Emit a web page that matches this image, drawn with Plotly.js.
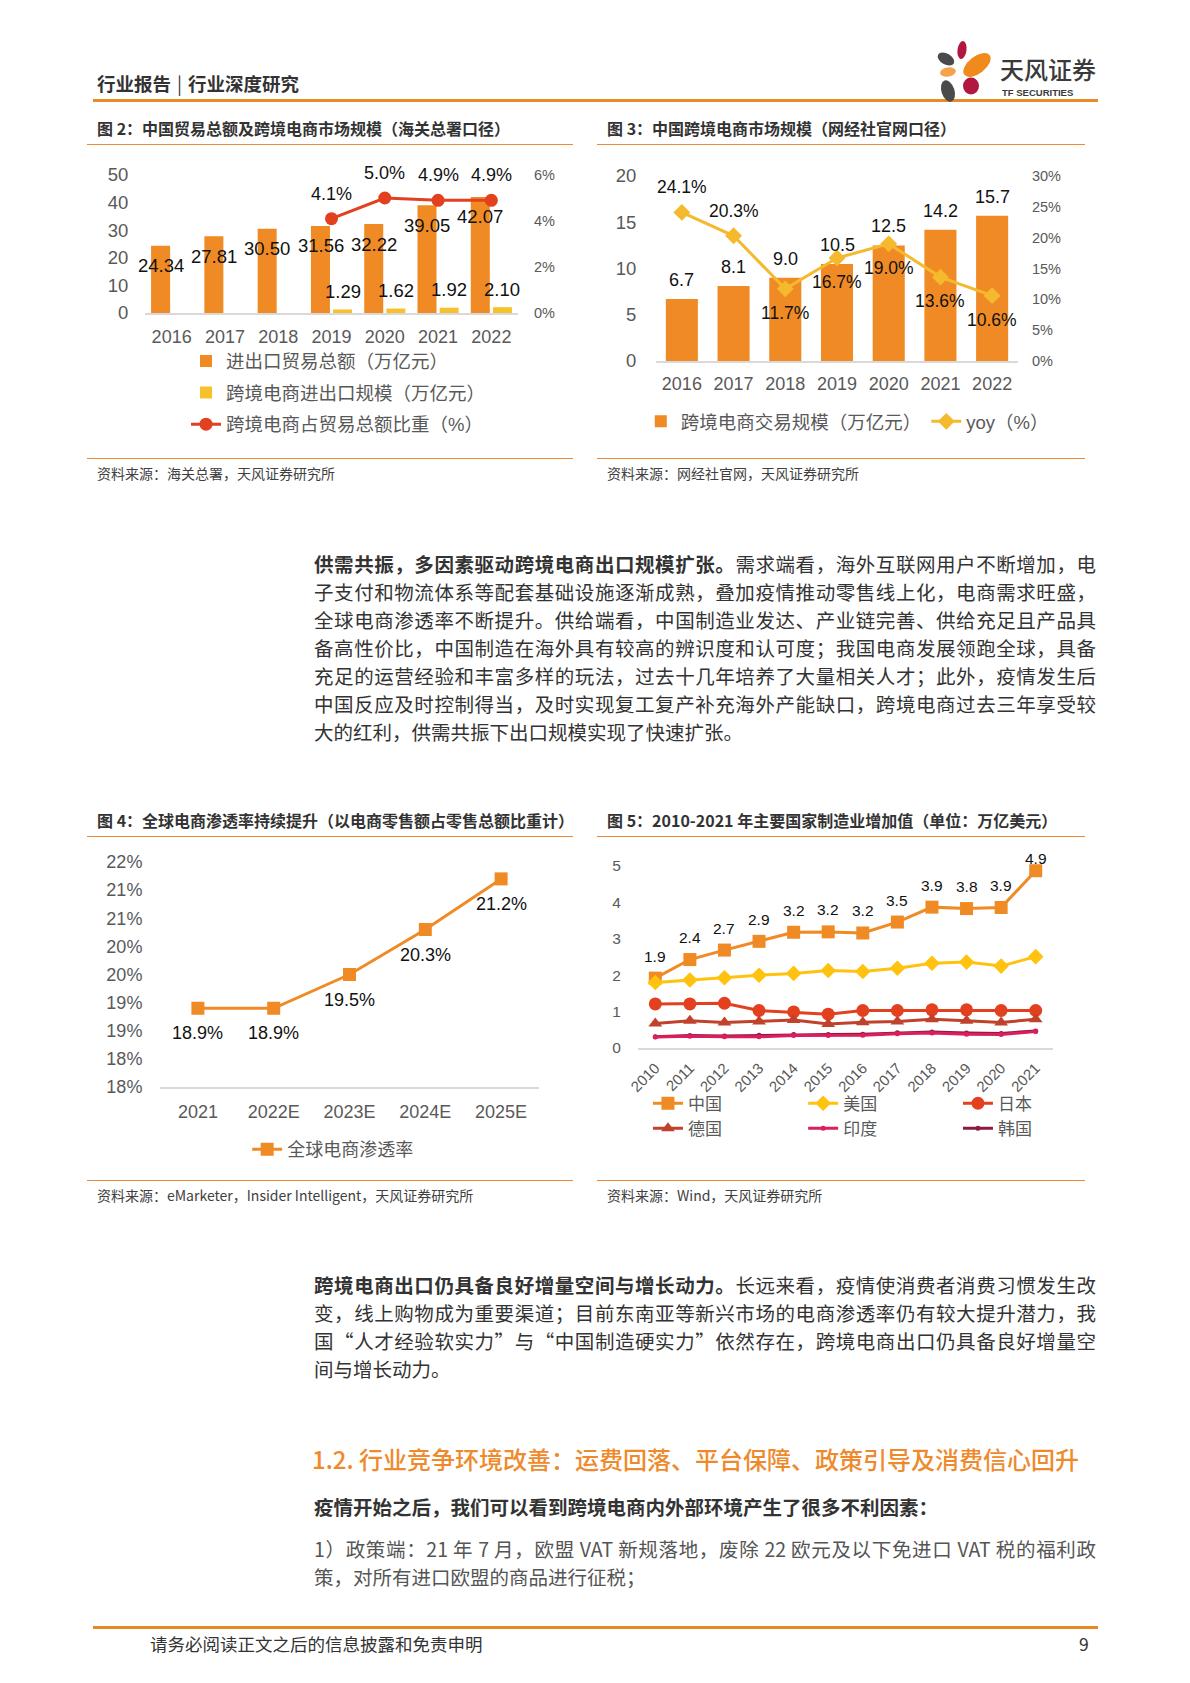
<!DOCTYPE html>
<html><head><meta charset="utf-8">
<script src="https://cdn.plot.ly/plotly-3.0.1.min.js"></script>
<style>
html,body{margin:0;padding:0;background:#fff;}
body{width:1190px;height:1683px;position:relative;overflow:hidden;font-family:"Noto Sans CJK SC","Noto Sans",sans-serif;color:#333;}
.abs{position:absolute;white-space:nowrap;}
.hline{position:absolute;background:#EE8A33;}
.ftitle{position:absolute;font-size:16px;font-weight:bold;color:#333;line-height:20px;white-space:nowrap;}
.src{position:absolute;font-size:14px;color:#404040;line-height:18px;white-space:nowrap;}
.para div{font-size:19.5px;line-height:28px;height:28px;text-align:justify;text-align-last:justify;color:#333;}
.para div.last{text-align-last:left;}
.chart{position:absolute;}
</style></head><body>

<!-- header -->
<div class="abs" style="left:97px;top:71px;font-size:18.5px;font-weight:bold;color:#333;line-height:24px;">行业报告<span style="padding:0 6px;font-weight:normal;">|</span>行业深度研究</div>
<div class="hline" style="left:93px;top:98.5px;width:1005px;height:3px;background:#E88A2A;"></div>
<svg class="abs" style="left:930px;top:36px;" width="175" height="70" viewBox="930 36 175 70">
  <ellipse cx="962" cy="50" rx="4.5" ry="9" fill="#B2173F" transform="rotate(8 962 50)"/>
  <ellipse cx="946" cy="59" rx="9" ry="5.5" fill="#4A4A4A" transform="rotate(30 946 59)"/>
  <ellipse cx="977" cy="65" rx="16" ry="8.5" fill="#F08A1C" transform="rotate(-38 977 65)"/>
  <ellipse cx="948" cy="72" rx="8" ry="4.5" fill="#F5A34A" transform="rotate(-10 948 72)"/>
  <ellipse cx="971" cy="86" rx="8" ry="8.5" fill="#B2173F"/>
  <ellipse cx="948" cy="91" rx="6.5" ry="11" fill="#4A4A4A" transform="rotate(-18 948 91)"/>
  <text x="1000" y="79" font-size="24" fill="#3A3A3A" font-family="Noto Sans CJK SC" font-weight="500">天风证券</text>
  <text x="1002" y="96" font-size="9.5" fill="#3A3A3A" font-family="Liberation Sans, Arial" font-weight="bold">TF SECURITIES</text>
</svg>

<!-- figure titles and rules -->
<div class="ftitle" style="left:97px;top:118px;">图 2：中国贸易总额及跨境电商市场规模（海关总署口径）</div>
<div class="ftitle" style="left:607px;top:118px;">图 3：中国跨境电商市场规模（网经社官网口径）</div>
<div class="hline" style="left:87px;top:143.5px;width:486px;height:1.5px;"></div>
<div class="hline" style="left:597px;top:143.5px;width:488px;height:1.5px;"></div>
<div class="hline" style="left:87px;top:457.5px;width:486px;height:1.5px;"></div>
<div class="hline" style="left:597px;top:457.5px;width:488px;height:1.5px;"></div>
<div class="src" style="left:97px;top:464px;">资料来源：海关总署，天风证券研究所</div>
<div class="src" style="left:607px;top:464px;">资料来源：网经社官网，天风证券研究所</div>

<div class="ftitle" style="left:97px;top:810px;">图 4：全球电商渗透率持续提升（以电商零售额占零售总额比重计）</div>
<div class="ftitle" style="left:607px;top:810px;">图 5：2010-2021 年主要国家制造业增加值（单位：万亿美元）</div>
<div class="hline" style="left:87px;top:835.5px;width:486px;height:1.5px;"></div>
<div class="hline" style="left:597px;top:835.5px;width:488px;height:1.5px;"></div>
<div class="hline" style="left:87px;top:1179.5px;width:486px;height:1.5px;"></div>
<div class="hline" style="left:597px;top:1179.5px;width:488px;height:1.5px;"></div>
<div class="src" style="left:97px;top:1186px;">资料来源：eMarketer，Insider Intelligent，天风证券研究所</div>
<div class="src" style="left:607px;top:1186px;">资料来源：Wind，天风证券研究所</div>

<!-- charts -->
<div id="fig2" class="chart" style="left:87px;top:146px;width:486px;height:310px;"></div>
<div id="fig3" class="chart" style="left:597px;top:146px;width:488px;height:310px;"></div>
<div id="fig4" class="chart" style="left:86px;top:838px;width:489px;height:340px;"></div>
<div id="fig5" class="chart" style="left:597px;top:838px;width:488px;height:340px;"></div>

<!-- paragraph 1 -->
<div class="para" style="position:absolute;left:314px;top:550px;width:782px;">
<div><b>供需共振，多因素驱动跨境电商出口规模扩张。</b>需求端看，海外互联网用户不断增加，电</div>
<div>子支付和物流体系等配套基础设施逐渐成熟，叠加疫情推动零售线上化，电商需求旺盛，</div>
<div>全球电商渗透率不断提升。供给端看，中国制造业发达、产业链完善、供给充足且产品具</div>
<div>备高性价比，中国制造在海外具有较高的辨识度和认可度；我国电商发展领跑全球，具备</div>
<div>充足的运营经验和丰富多样的玩法，过去十几年培养了大量相关人才；此外，疫情发生后</div>
<div>中国反应及时控制得当，及时实现复工复产补充海外产能缺口，跨境电商过去三年享受较</div>
<div class="last">大的红利，供需共振下出口规模实现了快速扩张。</div>
</div>

<!-- paragraph 2 -->
<div class="para" style="position:absolute;left:314px;top:1271px;width:782px;">
<div><b>跨境电商出口仍具备良好增量空间与增长动力。</b>长远来看，疫情使消费者消费习惯发生改</div>
<div>变，线上购物成为重要渠道；目前东南亚等新兴市场的电商渗透率仍有较大提升潜力，我</div>
<div>国“人才经验软实力”与“中国制造硬实力”依然存在，跨境电商出口仍具备良好增量空</div>
<div class="last">间与增长动力。</div>
</div>

<div class="abs" style="left:312px;top:1443px;font-size:24px;line-height:32px;color:#EE8A2C;font-weight:500;">1.2. 行业竞争环境改善：运费回落、平台保障、政策引导及消费信心回升</div>
<div class="abs" style="left:314px;top:1493px;font-size:19.5px;line-height:28px;color:#333;font-weight:bold;">疫情开始之后，我们可以看到跨境电商内外部环境产生了很多不利因素：</div>
<div class="para" style="position:absolute;left:314px;top:1535px;width:782px;">
<div style="color:#555;">1）政策端：21 年 7 月，欧盟 VAT 新规落地，废除 22 欧元及以下免进口 VAT 税的福利政</div>
<div class="last" style="color:#555;">策，对所有进口欧盟的商品进行征税；</div>
</div>

<!-- footer -->
<div class="hline" style="left:93px;top:1626px;width:1005px;height:3px;background:#E38B21;"></div>
<div class="abs" style="left:150px;top:1632px;font-size:17.5px;line-height:24px;color:#333;">请务必阅读正文之后的信息披露和免责申明</div>
<div class="abs" style="left:1079px;top:1632px;font-size:17.5px;line-height:24px;color:#333;">9</div>

<script>
// ---------------- DATA ----------------
// Figure 2
const fig2Years = ['2016','2017','2018','2019','2020','2021','2022'];
const fig2Trade = [24.34, 27.81, 30.50, 31.56, 32.22, 39.05, 42.07];
const fig2CrossBorder = [null, null, null, 1.29, 1.62, 1.92, 2.10];
const fig2Share = [null, null, null, 4.1, 5.0, 4.9, 4.9];
const fig2Names = ['进出口贸易总额（万亿元）', '跨境电商进出口规模（万亿元）', '跨境电商占贸易总额比重（%）'];

// Figure 3
const fig3Years = ['2016','2017','2018','2019','2020','2021','2022'];
const fig3Scale = [6.7, 8.1, 9.0, 10.5, 12.5, 14.2, 15.7];
const fig3Yoy = [24.1, 20.3, 11.7, 16.7, 19.0, 13.6, 10.6];
const fig3Names = ['跨境电商交易规模（万亿元）', 'yoy（%）'];

// Figure 4
const fig4Years = ['2021','2022E','2023E','2024E','2025E'];
const fig4Rate = [18.9, 18.9, 19.5, 20.3, 21.2];
const fig4TickVals = [17.5, 18.0, 18.5, 19.0, 19.5, 20.0, 20.5, 21.0, 21.5];
const fig4TickText = ['18%','18%','19%','19%','20%','20%','21%','21%','22%'];
const fig4Name = '全球电商渗透率';

// Figure 5
const fig5Years = ['2010','2011','2012','2013','2014','2015','2016','2017','2018','2019','2020','2021'];
const fig5China   = [1.92, 2.43, 2.69, 2.93, 3.18, 3.19, 3.16, 3.46, 3.87, 3.83, 3.86, 4.87];
const fig5USA     = [1.80, 1.87, 1.93, 2.00, 2.05, 2.13, 2.10, 2.19, 2.33, 2.36, 2.25, 2.51];
const fig5Japan   = [1.21, 1.21, 1.23, 1.03, 0.99, 0.93, 1.03, 1.03, 1.05, 1.05, 1.03, 1.03];
const fig5Germany = [0.67, 0.75, 0.70, 0.73, 0.77, 0.66, 0.71, 0.73, 0.79, 0.75, 0.70, 0.79];
const fig5India   = [0.30, 0.32, 0.31, 0.31, 0.34, 0.34, 0.35, 0.39, 0.41, 0.38, 0.37, 0.45];
const fig5Korea   = [0.31, 0.34, 0.33, 0.35, 0.37, 0.37, 0.38, 0.42, 0.44, 0.41, 0.40, 0.47];
const fig5Names = ['中国','美国','日本','德国','印度','韩国'];

// ---------------- STYLE ----------------
const FONT = 'Liberation Sans, Arial, "Noto Sans CJK SC", sans-serif';
const ORANGE = '#F08A24';
const TICK = '#595959';
const LABEL = '#111';
const cfg = {staticPlot: true, displayModeBar: false};
const noLineAxis = {showgrid:false, zeroline:false, showline:false, ticks:'outside', tickcolor:'rgba(0,0,0,0)'};
const idx = arr => arr.map((_, i) => i);
function catAxis(labels, extra){
  return Object.assign({}, noLineAxis, {type:'linear', range:[-0.5, labels.length-0.5], tickmode:'array',
    tickvals:idx(labels), ticktext:labels, showline:true, linecolor:'#D9D9D9', linewidth:1.5}, extra);
}

// ---------------- FIG 2 ----------------
(function(){
  const xs = idx(fig2Years);
  const ann = [];
  xs.forEach((x,i)=>{
    ann.push({x:x, y:fig2Trade[i], xref:'x', yref:'y', text:fig2Trade[i].toFixed(2), showarrow:false,
      xshift:-11, yshift:-20, font:{size:18.5, color:LABEL, family:FONT}});
    if (fig2CrossBorder[i] !== null)
      ann.push({x:x, y:fig2CrossBorder[i], xref:'x', yref:'y', text:fig2CrossBorder[i].toFixed(2), showarrow:false,
        xshift:11, yshift:18, font:{size:18.5, color:LABEL, family:FONT}});
    if (fig2Share[i] !== null)
      ann.push({x:x, y:fig2Share[i], xref:'x', yref:'y2', text:fig2Share[i].toFixed(1)+'%', showarrow:false,
        yshift:25, font:{size:18, color:LABEL, family:FONT}});
  });
  const traces = [
    {type:'bar', x:xs, y:fig2Trade, name:fig2Names[0], marker:{color:ORANGE}, legendgroup:'a', hoverinfo:'skip'},
    {type:'bar', x:xs, y:fig2CrossBorder, name:fig2Names[1], marker:{color:'#F7C12E'}, legendgroup:'b', hoverinfo:'skip'},
    {type:'scatter', mode:'lines+markers', x:xs, y:fig2Share, yaxis:'y2', name:fig2Names[2],
      line:{color:'#E2401F', width:3}, marker:{color:'#E2401F', size:13}, legendgroup:'c', cliponaxis:false, hoverinfo:'skip'}
  ];
  const layout = {
    width:486, height:310, margin:{l:58, r:55, t:29, b:143, autoexpand:false},
    paper_bgcolor:'#fff', plot_bgcolor:'#fff', font:{family:FONT, color:TICK},
    barmode:'group', bargap:0.17, bargroupgap:0.14,
    xaxis:catAxis(fig2Years, {ticklen:7, tickfont:{size:18, color:TICK}}),
    yaxis:Object.assign({}, noLineAxis, {range:[0,50], dtick:10, ticklen:12, tickfont:{size:18.5, color:TICK}}),
    yaxis2:Object.assign({}, noLineAxis, {overlaying:'y', side:'right', range:[0,6], dtick:2, ticksuffix:'%', ticklen:12, tickfont:{size:14.5, color:TICK}}),
    showlegend:true,
    legend:{orientation:'v', x:0.11, xanchor:'left', y:-0.214, yanchor:'top', font:{size:18.5, color:TICK, family:FONT},
      tracegroupgap:4.5, traceorder:'grouped', bgcolor:'rgba(0,0,0,0)'},
    annotations:ann
  };
  Plotly.newPlot('fig2', traces, layout, cfg);
})();

// ---------------- FIG 3 ----------------
(function(){
  const xs = idx(fig3Years);
  const ann = [];
  xs.forEach((x,i)=>{
    ann.push({x:x, y:fig3Scale[i], xref:'x', yref:'y', text:fig3Scale[i].toFixed(1), showarrow:false,
      yshift:19, font:{size:18, color:LABEL, family:FONT}});
    const above = i < 2;
    ann.push({x:x, y:fig3Yoy[i], xref:'x', yref:'y2', text:fig3Yoy[i].toFixed(1)+'%', showarrow:false,
      yshift: above ? 25 : -24, font:{size:17.5, color:LABEL, family:FONT}});
  });
  const traces = [
    {type:'bar', x:xs, y:fig3Scale, name:fig3Names[0], marker:{color:ORANGE}, hoverinfo:'skip'},
    {type:'scatter', mode:'lines+markers', x:xs, y:fig3Yoy, yaxis:'y2', name:fig3Names[1],
      line:{color:'#F5B92E', width:3}, marker:{color:'#F5B92E', size:13, symbol:'diamond'}, cliponaxis:false, hoverinfo:'skip'}
  ];
  const layout = {
    width:488, height:310, margin:{l:59, r:67, t:30, b:95, autoexpand:false},
    paper_bgcolor:'#fff', plot_bgcolor:'#fff', font:{family:FONT, color:TICK},
    bargap:0.38,
    xaxis:catAxis(fig3Years, {ticklen:6, tickfont:{size:18, color:TICK}}),
    yaxis:Object.assign({}, noLineAxis, {range:[0,20], dtick:5, ticklen:15, tickfont:{size:18.5, color:TICK}}),
    yaxis2:Object.assign({}, noLineAxis, {overlaying:'y', side:'right', range:[0,30], dtick:5, ticksuffix:'%', ticklen:10, tickfont:{size:14.5, color:TICK}}),
    showlegend:true,
    legend:{orientation:'h', x:-0.042, xanchor:'left', y:-0.226, yanchor:'top', font:{size:18.5, color:TICK, family:FONT}, bgcolor:'rgba(0,0,0,0)'},
    annotations:ann
  };
  Plotly.newPlot('fig3', traces, layout, cfg);
})();

// ---------------- FIG 4 ----------------
(function(){
  const xs = idx(fig4Years);
  const ann = xs.map((x,i)=>({x:x, y:fig4Rate[i], xref:'x', yref:'y', text:fig4Rate[i].toFixed(1)+'%', showarrow:false,
      yshift:-25, font:{size:18, color:LABEL, family:FONT}}));
  const traces = [
    {type:'scatter', mode:'lines+markers', x:xs, y:fig4Rate, name:fig4Name,
      line:{color:ORANGE, width:3}, marker:{color:ORANGE, size:13, symbol:'square'}, cliponaxis:false, hoverinfo:'skip'}
  ];
  const layout = {
    width:489, height:340, margin:{l:74, r:36, t:24, b:91, autoexpand:false},
    paper_bgcolor:'#fff', plot_bgcolor:'#fff', font:{family:FONT, color:TICK},
    xaxis:catAxis(fig4Years, {ticklen:8, tickfont:{size:18, color:TICK}}),
    yaxis:Object.assign({}, noLineAxis, {range:[17.5,21.5], tickmode:'array', tickvals:fig4TickVals, ticktext:fig4TickText, ticklen:13, tickfont:{size:18, color:TICK}}),
    showlegend:true,
    legend:{orientation:'h', x:0.23, xanchor:'left', y:-0.196, yanchor:'top', font:{size:18, color:TICK, family:FONT}, bgcolor:'rgba(0,0,0,0)'},
    annotations:ann
  };
  Plotly.newPlot('fig4', traces, layout, cfg);
})();

// ---------------- FIG 5 ----------------
(function(){
  const xs = idx(fig5Years);
  const ann = xs.map((x,i)=>({x:x, y:fig5China[i], xref:'x', yref:'y', text:fig5China[i].toFixed(1), showarrow:false,
      yshift: i === xs.length-1 ? 12 : 22, font:{size:15.5, color:LABEL, family:FONT}}));
  // drawing order: Korea below India
  const series = [fig5China, fig5USA, fig5Japan, fig5Germany, fig5Korea, fig5India];
  const names = [fig5Names[0], fig5Names[1], fig5Names[2], fig5Names[3], fig5Names[5], fig5Names[4]];
  const colors = ['#F08A24','#FFC20E','#E2401F','#C0422C','#8E1B3E','#DC1E5C'];
  const symbols = ['square','diamond','circle','triangle-up','circle','circle'];
  const sizes = [13, 12, 13, 12, 5, 5];
  const legendOf = ['legend','legend2','legend3','legend','legend3','legend2'];
  const traces = series.map((s,k)=>({type:'scatter', mode:'lines+markers', x:xs, y:s, name:names[k], legend:legendOf[k],
      line:{color:colors[k], width:3}, marker:{color:colors[k], size:sizes[k], symbol:symbols[k]}, cliponaxis:false, hoverinfo:'skip'}));
  const legBase = {orientation:'v', xanchor:'left', y:-0.207, yanchor:'top', font:{size:17, color:TICK, family:FONT}, bgcolor:'rgba(0,0,0,0)', traceorder:'normal'};
  const layout = {
    width:488, height:340, margin:{l:41, r:32, t:28, b:130, autoexpand:false},
    paper_bgcolor:'#fff', plot_bgcolor:'#fff', font:{family:FONT, color:TICK},
    xaxis:catAxis(fig5Years, {ticklen:4, tickangle:-45, tickfont:{size:15, color:TICK}}),
    yaxis:Object.assign({}, noLineAxis, {range:[0,5], dtick:1, ticklen:13, tickfont:{size:15.5, color:TICK}}),
    showlegend:true,
    legend:Object.assign({}, legBase, {x:0.024}),
    legend2:Object.assign({}, legBase, {x:0.398}),
    legend3:Object.assign({}, legBase, {x:0.771}),
    annotations:ann
  };
  Plotly.newPlot('fig5', traces, layout, cfg);
})();
</script>
</body></html>
